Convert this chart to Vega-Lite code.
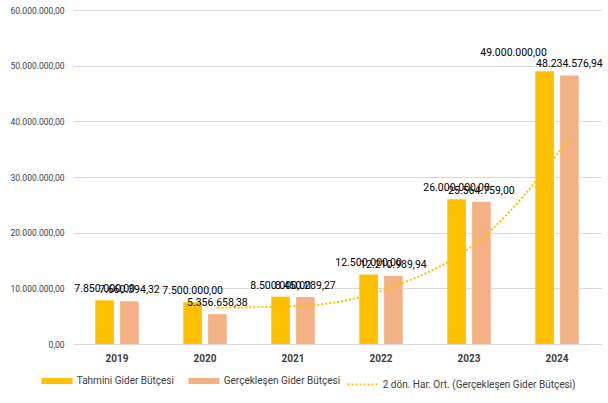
{
  "$schema": "https://vega.github.io/schema/vega-lite/v6.json",
  "width": 528,
  "height": 334,
  "padding": {"left": 10, "top": 6, "right": 5, "bottom": 5},
  "config": {
    "locale": {"number": {"decimal": ",", "thousands": ".", "grouping": [3], "currency": ["", ""]}},
    "font": "Roboto",
    "view": {"stroke": null},
    "background": "#ffffff"
  },
  "datasets": {
    "bars": [
      {"year": "2019", "series": "Tahmini Gider Bütçesi", "value": 7850000},
      {"year": "2019", "series": "Gerçekleşen Gider Bütçesi", "value": 7660394.32},
      {"year": "2020", "series": "Tahmini Gider Bütçesi", "value": 7500000},
      {"year": "2020", "series": "Gerçekleşen Gider Bütçesi", "value": 5356658.38},
      {"year": "2021", "series": "Tahmini Gider Bütçesi", "value": 8500000},
      {"year": "2021", "series": "Gerçekleşen Gider Bütçesi", "value": 8450289.27},
      {"year": "2022", "series": "Tahmini Gider Bütçesi", "value": 12500000},
      {"year": "2022", "series": "Gerçekleşen Gider Bütçesi", "value": 12210989.94},
      {"year": "2023", "series": "Tahmini Gider Bütçesi", "value": 26000000},
      {"year": "2023", "series": "Gerçekleşen Gider Bütçesi", "value": 25564759},
      {"year": "2024", "series": "Tahmini Gider Bütçesi", "value": 49000000},
      {"year": "2024", "series": "Gerçekleşen Gider Bütçesi", "value": 48234576.94}
    ],
    "trend": [
      {"year": "2020", "base": "Gerçekleşen Gider Bütçesi", "series": "2 dön. Har. Ort. (Gerçekleşen Gider Bütçesi)", "value": 6508526.35},
      {"year": "2021", "base": "Gerçekleşen Gider Bütçesi", "series": "2 dön. Har. Ort. (Gerçekleşen Gider Bütçesi)", "value": 6903473.83},
      {"year": "2022", "base": "Gerçekleşen Gider Bütçesi", "series": "2 dön. Har. Ort. (Gerçekleşen Gider Bütçesi)", "value": 10330639.61},
      {"year": "2023", "base": "Gerçekleşen Gider Bütçesi", "series": "2 dön. Har. Ort. (Gerçekleşen Gider Bütçesi)", "value": 18887874.47},
      {"year": "2024", "base": "Gerçekleşen Gider Bütçesi", "series": "2 dön. Har. Ort. (Gerçekleşen Gider Bütçesi)", "value": 36899667.97}
    ]
  },
  "encoding": {
    "x": {
      "field": "year", "type": "nominal",
      "scale": {"paddingInner": 0.45, "paddingOuter": 0.225},
      "axis": {"title": null, "labelAngle": 0, "labelFontSize": 10, "labelFontWeight": "bold", "labelColor": "#404040", "ticks": false, "domainColor": "#D9D9D9", "labelPadding": 9}
    },
    "y": {
      "type": "quantitative",
      "scale": {"domain": [0, 60000000]},
      "axis": {"title": null, "values": [0, 10000000, 20000000, 30000000, 40000000, 50000000, 60000000], "format": ",.2f", "labelFontSize": 8.5, "labelColor": "#404040", "domain": false, "ticks": false, "gridColor": "#D9D9D9", "labelPadding": 9}
    }
  },
  "layer": [
    {
      "data": {"name": "bars"},
      "mark": {"type": "bar"},
      "encoding": {
        "xOffset": {"field": "series", "scale": {"domain": ["Tahmini Gider Bütçesi", "Gerçekleşen Gider Bütçesi"], "paddingInner": 0.25, "paddingOuter": 0.1}},
        "y": {"field": "value", "type": "quantitative"},
        "color": {
          "field": "series", "type": "nominal",
          "scale": {"domain": ["Tahmini Gider Bütçesi", "Gerçekleşen Gider Bütçesi", "2 dön. Har. Ort. (Gerçekleşen Gider Bütçesi)"], "range": ["#FFC000", "#F4B183", "#FFC000"]},
          "legend": {
            "orient": "none", "legendX": -21, "legendY": 366, "direction": "horizontal", "title": null,
            "symbolType": "stroke", "symbolSize": 961, "labelFontSize": 10, "labelColor": "#404040",
            "columnPadding": 2, "labelOffset": 14.75, "labelLimit": 400,
            "encode": {"symbols": {"update": {
              "stroke": {"signal": "scale('color', datum.value)"},
              "strokeWidth": {"signal": "datum.value === '2 dön. Har. Ort. (Gerçekleşen Gider Bütçesi)' ? 2 : 6"},
              "strokeDash": {"signal": "datum.value === '2 dön. Har. Ort. (Gerçekleşen Gider Bütçesi)' ? [2, 2] : [1, 0]"},
              "strokeCap": {"value": "butt"},
              "fill": {"value": "transparent"},
              "opacity": {"value": 1}
            }}}
          }
        }
      }
    },
    {
      "data": {"name": "trend"},
      "mark": {"type": "line", "interpolate": "monotone", "strokeDash": [2, 2], "strokeWidth": 2, "strokeCap": "butt"},
      "encoding": {
        "xOffset": {"field": "base"},
        "y": {"field": "value", "type": "quantitative"},
        "color": {"field": "series", "type": "nominal"}
      }
    },
    {
      "data": {"name": "bars"},
      "transform": [{"filter": "!(datum.year === '2024' && datum.series === 'Tahmini Gider Bütçesi')"}],
      "mark": {"type": "text", "baseline": "bottom", "dy": -6, "fontSize": 10.5, "color": "#000000"},
      "encoding": {
        "xOffset": {"field": "series"},
        "y": {"field": "value", "type": "quantitative"},
        "text": {"field": "value", "type": "quantitative", "format": ",.2f"}
      }
    },
    {
      "data": {"name": "bars"},
      "transform": [{"filter": "datum.year === '2024' && datum.series === 'Tahmini Gider Bütçesi'"}],
      "mark": {"type": "text", "baseline": "bottom", "dy": -13, "dx": -31, "fontSize": 10.5, "color": "#000000"},
      "encoding": {
        "xOffset": {"field": "series"},
        "y": {"field": "value", "type": "quantitative"},
        "text": {"field": "value", "type": "quantitative", "format": ",.2f"}
      }
    }
  ]
}
